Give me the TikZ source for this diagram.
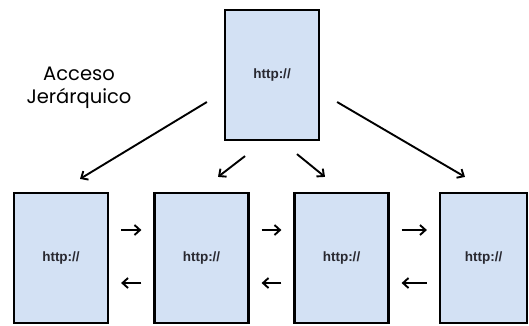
\documentclass[tikz,border=0pt]{standalone}
\usepackage{fontspec}
\setmainfont{Poppins}
\newfontfamily\urlfont{Liberation Sans}
\usetikzlibrary{arrows.meta,calc}
\definecolor{pagefill}{RGB}{211,225,244}
\definecolor{urltext}{RGB}{40,40,48}
\tikzset{
  page/.style={draw=black, line width=2.2pt, fill=pagefill, minimum width=94pt, minimum height=130pt, inner sep=0pt, font=\urlfont\bfseries\fontsize{13.5}{15}\selectfont, text=urltext},
  arr/.style={line width=1.9pt, -{Straight Barb[length=5.5pt,width=10pt,line width=1.9pt]}},
}
\begin{document}
\begin{tikzpicture}[x=1pt,y=-1pt]
\useasboundingbox (0,0) rectangle (529,325);
\node[page] (top) at (272,75) {http://};
\node[page] (b1) at (61,258) {http://};
\node[page] (b2) at (201.5,258) {http://};
\node[page] (b3) at (341.5,258) {http://};
\node[page, minimum width=87pt] (b4) at (483.5,258) {http://};
\node[font=\fontsize{19.5}{23}\selectfont, align=center, inner sep=0pt, anchor=base] (lbl) at (79,103) {Acceso\\Jerárquico};
% hierarchical arrows
\draw[arr] ($(top.west)+(-17,27)$) -- ($(b1.north)+(19,-13)$);
\draw[arr] ($(top.south)+(-27,15)$) -- ($(b2.north)+(16.5,-15)$);
\draw[arr] ($(top.south)+(25,13)$) -- ($(b3.north)+(-16.5,-15)$);
\draw[arr] ($(top.east)+(17,27)$) -- ($(b4.north)+(-18.5,-15)$);
% sequential arrows
\foreach \a/\b in {b1/b2,b2/b3,b3/b4}{
  \draw[arr] ($(\a.east)+(12,-28)$) -- ($(\b.west)+(-12,-28)$);
  \draw[arr] ($(\b.west)+(-12,25)$) -- ($(\a.east)+(12,25)$);
}
\end{tikzpicture}
\end{document}
